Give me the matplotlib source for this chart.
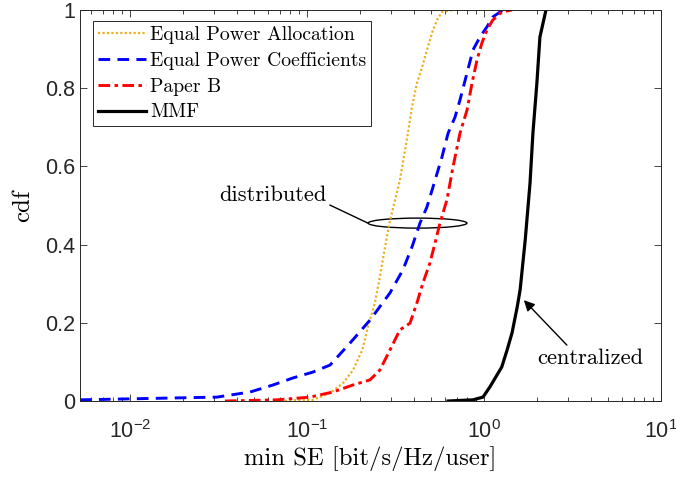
import numpy as np
import matplotlib
matplotlib.use("Agg")
import matplotlib.pyplot as plt
from matplotlib.patches import Ellipse
from matplotlib.ticker import LogLocator, NullFormatter

plt.rcParams['font.family'] = ['Liberation Sans', 'DejaVu Sans']
plt.rcParams['mathtext.fontset'] = 'custom'
plt.rcParams['mathtext.rm'] = 'Liberation Sans'
plt.rcParams['mathtext.it'] = 'Liberation Sans'
plt.rcParams['axes.unicode_minus'] = False

# cdf curves (x = min SE, y = cdf)
epa_x = [0.0751, 0.0912, 0.108, 0.135, 0.160, 0.182, 0.205, 0.221, 0.242, 0.258, 0.276,
         0.294, 0.335, 0.372, 0.392, 0.418, 0.447, 0.477, 0.508, 0.542, 0.579, 0.668]
epa_y = [0.0, 0.003, 0.003, 0.02, 0.046, 0.079, 0.130, 0.189, 0.251, 0.317, 0.394,
         0.460, 0.565, 0.685, 0.752, 0.813, 0.854, 0.898, 0.941, 0.974, 0.995, 1.0]

epc_x = [0.00522, 0.031, 0.0477, 0.0643, 0.0834, 0.108, 0.135, 0.175, 0.227, 0.294, 0.348,
         0.392, 0.435, 0.476, 0.515, 0.579, 0.627, 0.686, 0.732, 0.802, 0.867, 0.949,
         1.04, 1.12, 1.28]
epc_y = [0.003, 0.01, 0.023, 0.041, 0.059, 0.074, 0.092, 0.148, 0.207, 0.276, 0.335,
         0.394, 0.455, 0.496, 0.547, 0.624, 0.685, 0.726, 0.770, 0.839, 0.898, 0.931,
         0.957, 0.982, 1.0]

pb_x = [0.0344, 0.0677, 0.104, 0.140, 0.182, 0.227, 0.258, 0.294, 0.335, 0.382, 0.418,
        0.452, 0.495, 0.529, 0.564, 0.618, 0.668, 0.732, 0.802, 0.856, 0.913, 0.974,
        1.04, 1.12, 1.26, 1.44]
pb_y = [0.0, 0.003, 0.010, 0.023, 0.041, 0.054, 0.079, 0.130, 0.182, 0.199, 0.251,
        0.302, 0.353, 0.404, 0.455, 0.515, 0.598, 0.685, 0.744, 0.813, 0.872, 0.916,
        0.949, 0.974, 0.995, 1.0]

mmf_x = [0.627, 0.867, 0.987, 1.08, 1.26, 1.35, 1.44, 1.54, 1.60, 1.71, 1.82, 1.89,
         1.99, 2.07, 2.24]
mmf_y = [0.0, 0.003, 0.010, 0.036, 0.087, 0.130, 0.174, 0.240, 0.284, 0.412, 0.557,
         0.685, 0.813, 0.931, 1.0]

cm = 'cmr10'

fig = plt.figure(figsize=(6.76, 4.79), dpi=100)
ax = fig.add_axes([0.1183, 0.1628, 0.8595, 0.8163])

ax.plot(epa_x, epa_y, color='#EDB120', linestyle=(0, (1, 1)), linewidth=1.6,
        label='Equal Power Allocation')
ax.plot(epc_x, epc_y, color='b', linestyle=(0, (4, 2.5)), linewidth=2.1,
        label='Equal Power Coefficients')
ax.plot(pb_x, pb_y, color='r', linestyle=(0, (4, 1.5, 1.2, 1.5)), linewidth=2.1,
        label='Paper B')
ax.plot(mmf_x, mmf_y, color='k', linestyle='-', linewidth=2.3, label='MMF')

ax.set_xscale('log')
ax.set_xlim(0.00522, 10)
ax.set_ylim(0, 1)
ax.set_yticks([0, 0.2, 0.4, 0.6, 0.8, 1])
ax.set_yticklabels(['0', '0.2', '0.4', '0.6', '0.8', '1'])
ax.xaxis.set_major_locator(LogLocator(base=10, numticks=10))
ax.xaxis.set_minor_locator(LogLocator(base=10, subs=np.arange(2, 10), numticks=20))
ax.xaxis.set_minor_formatter(NullFormatter())
ax.tick_params(which='both', direction='in', top=True, right=True,
               labelsize=15.5, colors='#262626', labelcolor='#262626')
ax.tick_params(which='major', length=5, width=0.6)
ax.tick_params(which='minor', length=3, width=0.6)
ax.tick_params(axis='x', which='major', pad=14)
for s in ax.spines.values():
    s.set_color('#262626')
    s.set_linewidth(0.7)

ax.set_xlabel('min SE [bit/s/Hz/user]', fontfamily=cm, fontsize=17.8, labelpad=2)
ax.set_ylabel('cdf', fontfamily=cm, fontsize=17.8, labelpad=8)

leg = ax.legend(loc='upper left', prop={'family': cm, 'size': 14.2}, frameon=True,
                fancybox=False, edgecolor='#262626', framealpha=1,
                handlelength=2.45, handletextpad=0.2, labelspacing=0.4,
                borderpad=0.25, borderaxespad=0, bbox_to_anchor=(0.0224, 0.972))
leg.get_frame().set_linewidth(0.7)

# distributed annotation
ell = Ellipse((0.581, 0.455), 0.170, 0.0256, transform=ax.transAxes,
              fill=False, edgecolor='k', linewidth=1.0)
ax.add_patch(ell)
ax.plot([0.135, 0.221], [0.501, 0.455], color='k', linewidth=1.0)
ax.text(0.0643, 0.527, 'distributed', fontfamily=cm, fontsize=16.2,
        ha='center', va='center')

# centralized annotation
ax.annotate('', xy=(1.68, 0.258), xytext=(2.94, 0.143),
            arrowprops=dict(arrowstyle='-|>', color='k', linewidth=1.0,
                            mutation_scale=16, shrinkA=0, shrinkB=0))
ax.text(3.97, 0.11, 'centralized', fontfamily=cm, fontsize=16.2,
        ha='center', va='center')

fig.savefig('out.png', dpi=100)
